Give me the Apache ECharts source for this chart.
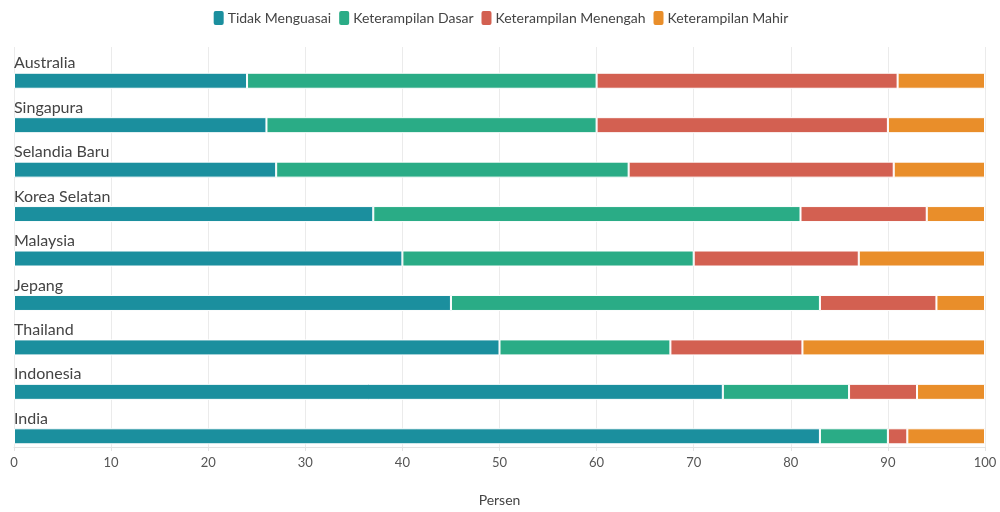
<!DOCTYPE html>
<html>
<head>
<meta charset="utf-8">
<style>
  html, body { margin: 0; padding: 0; background: #fff; }
  #chart { width: 1000px; height: 512px; }
</style>
<script src="https://cdn.jsdelivr.net/npm/echarts@6/dist/echarts.min.js"></script>
</head>
<body>
<div id="chart"></div>
<script>
const countries = ['Australia', 'Singapura', 'Selandia Baru', 'Korea Selatan', 'Malaysia', 'Jepang', 'Thailand', 'Indonesia', 'India'];
const tidakMenguasai = [24, 26, 27, 37, 40, 45, 50, 73, 83];
const keterampilanDasar = [36, 34, 36.3, 44, 30, 38, 17.6, 13, 7];
const keterampilanMenengah = [31, 30, 27.3, 13, 17, 12, 13.6, 7, 2];
const keterampilanMahir = [9, 10, 9.4, 6, 13, 5, 18.8, 7, 8];
const xTicks = [0, 10, 20, 30, 40, 50, 60, 70, 80, 90, 100];

const seriesNames = ['Tidak Menguasai', 'Keterampilan Dasar', 'Keterampilan Menengah', 'Keterampilan Mahir'];
const seriesData = [tidakMenguasai, keterampilanDasar, keterampilanMenengah, keterampilanMahir];
const colors = ['#1b8f9e', '#2aac86', '#d36051', '#e98e2a'];
const fontFamily = 'Lato, sans-serif';

const chart = echarts.init(document.getElementById('chart'));

// empty bar in its own stack, only used to push the real bars to the bottom of each band
const spacer = {
  name: 'spacer',
  type: 'bar',
  stack: 'spacer',
  barWidth: 16,
  barGap: '44%',
  silent: true,
  itemStyle: { color: 'transparent' },
  data: countries.map(() => 0),
};

const series = [spacer].concat(seriesNames.map((name, i) => ({
  name,
  type: 'bar',
  stack: 'total',
  barWidth: 16,
  barGap: '44%',
  itemStyle: { color: colors[i], borderColor: '#fff', borderWidth: 1 },
  emphasis: { disabled: true },
  data: seriesData[i],
})));

chart.setOption({
  animation: false,
  color: colors,
  textStyle: { fontFamily },
  legend: {
    top: 4,
    left: 'center',
    data: seriesNames,
    icon: 'roundRect',
    itemWidth: 12,
    itemHeight: 16,
    itemGap: 6,
    textStyle: { fontSize: 14, color: '#444', padding: [0, 0, 0, -2] },
  },
  grid: {
    left: 14,
    right: 15,
    top: 47,
    bottom: 60,
    containLabel: false,
  },
  xAxis: {
    type: 'value',
    min: 0,
    max: 100,
    interval: 10,
    name: 'Persen',
    nameLocation: 'middle',
    nameGap: 46,
    nameTextStyle: { fontSize: 14, color: '#444' },
    axisLine: { show: true, lineStyle: { color: '#e3e3e3' } },
    axisTick: { show: true, length: 4, lineStyle: { color: '#e3e3e3' } },
    axisLabel: {
      margin: 9,
      fontSize: 13,
      color: '#555',
      formatter: v => (xTicks.includes(v) ? String(v) : ''),
    },
    splitLine: { show: true, lineStyle: { color: '#ebebeb' } },
  },
  yAxis: {
    type: 'category',
    inverse: true,
    data: countries,
    axisLine: { show: false },
    axisTick: { show: false },
    splitLine: { show: false },
    axisLabel: {
      inside: true,
      margin: 0,
      align: 'left',
      verticalAlign: 'bottom',
      lineHeight: 12,
      fontSize: 16,
      color: '#444',
    },
  },
  series,
});
</script>
</body>
</html>
